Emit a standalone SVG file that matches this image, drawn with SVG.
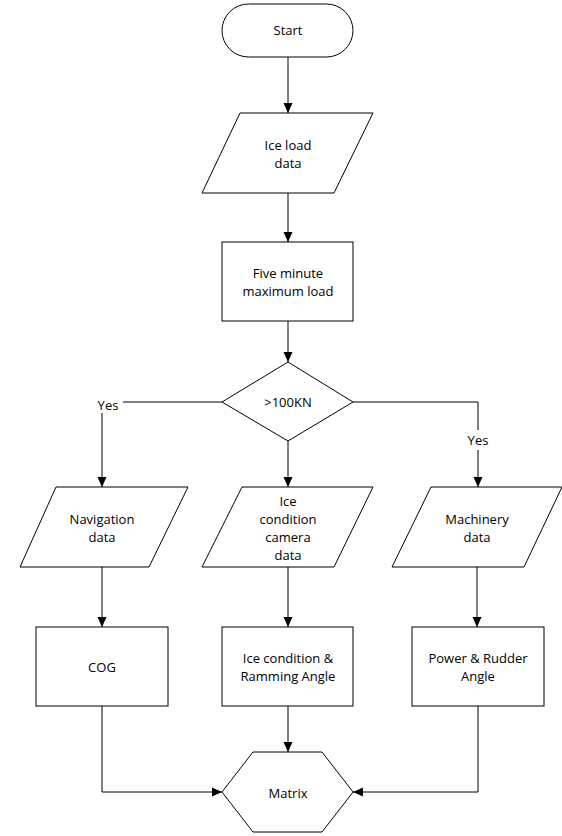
<svg xmlns="http://www.w3.org/2000/svg" width="562" height="836" viewBox="0 0 562 836">
<style>
.s{fill:#fff;stroke:#000;stroke-width:1}
.c{fill:none;stroke:#000;stroke-width:1}
text{font-family:"Open Sans","Noto Sans","DejaVu Sans",sans-serif;font-size:13px;fill:#000;text-anchor:middle;dominant-baseline:central}
</style>
<defs>
<marker id="a" markerUnits="userSpaceOnUse" markerWidth="10" markerHeight="10" refX="10" refY="5" orient="auto">
<path d="M0,0.5 L10,5 L0,9.5 z" fill="#000"/>
</marker>
</defs>
<rect width="562" height="836" fill="#fff"/>
<g id="connectors">
<path class="c" d="M288,57 V113" marker-end="url(#a)"/>
<path class="c" d="M288,193 V242" marker-end="url(#a)"/>
<path class="c" d="M288,321 V362" marker-end="url(#a)"/>
<path class="c" d="M222,402 H123 M102,413 V487" marker-end="url(#a)"/>
<path class="c" d="M353,402 H478 V430 M478,450 V487" marker-end="url(#a)"/>
<path class="c" d="M288,441 V487" marker-end="url(#a)"/>
<path class="c" d="M102,567 V627" marker-end="url(#a)"/>
<path class="c" d="M288,567 V627" marker-end="url(#a)"/>
<path class="c" d="M477,567 V627" marker-end="url(#a)"/>
<path class="c" d="M102,706 V792 H222" marker-end="url(#a)"/>
<path class="c" d="M288,706 V752" marker-end="url(#a)"/>
<path class="c" d="M478,706 V792 H353" marker-end="url(#a)"/>
<text x="108" y="405">Yes</text>
<text x="478" y="440">Yes</text>
</g>
<g id="start">
<rect class="s" x="222" y="4" width="131" height="53" rx="26.5" ry="26.5"/>
<text x="288" y="30">Start</text>
</g>
<g id="ice-load-data">
<polygon class="s" points="240,113 373,113 334,193 202,193"/>
<text x="288" y="145">Ice load</text>
<text x="288" y="163">data</text>
</g>
<g id="five-minute">
<rect class="s" x="222" y="242" width="131" height="79"/>
<text x="288" y="273">Five minute</text>
<text x="288" y="291">maximum load</text>
</g>
<g id="decision">
<polygon class="s" points="288,362 353,402 288,441 222,402"/>
<text x="288" y="402">&gt;100KN</text>
</g>
<g id="navigation-data">
<polygon class="s" points="56,487 188,487 149,567 20,567"/>
<text x="102" y="519">Navigation</text>
<text x="102" y="537">data</text>
</g>
<g id="camera-data">
<polygon class="s" points="242,487 373,487 334,567 202,567"/>
<text x="288" y="501">Ice</text>
<text x="288" y="519">condition</text>
<text x="288" y="537">camera</text>
<text x="288" y="555">data</text>
</g>
<g id="machinery-data">
<polygon class="s" points="431,487 562,487 524,567 392,567"/>
<text x="477" y="519">Machinery</text>
<text x="477" y="537">data</text>
</g>
<g id="cog">
<rect class="s" x="36" y="627" width="132" height="79"/>
<text x="102" y="667">COG</text>
</g>
<g id="ramming">
<rect class="s" x="222" y="627" width="131" height="79"/>
<text x="288" y="658">Ice condition &amp;</text>
<text x="288" y="676">Ramming Angle</text>
</g>
<g id="power">
<rect class="s" x="412" y="627" width="132" height="79"/>
<text x="478" y="658">Power &amp; Rudder</text>
<text x="478" y="676">Angle</text>
</g>
<g id="matrix">
<polygon class="s" points="253,752 322,752 353,792 322,832 253,832 222,792"/>
<text x="288" y="793">Matrix</text>
</g>
</svg>
